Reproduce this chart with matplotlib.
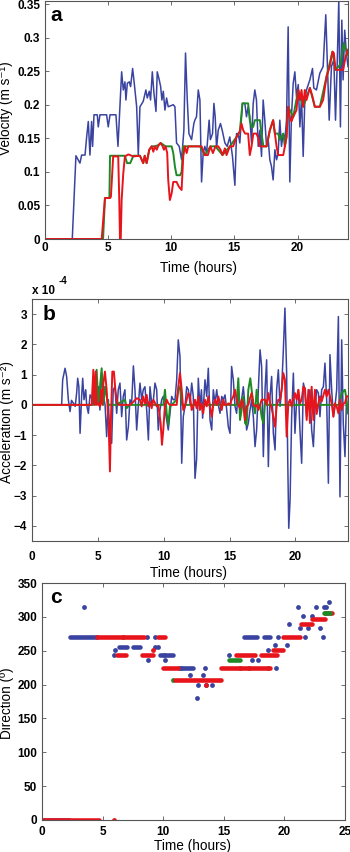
import matplotlib
matplotlib.use("Agg")
import matplotlib.pyplot as plt
from matplotlib.ticker import FormatStrFormatter

plt.rcParams['font.family'] = ['Liberation Sans', 'DejaVu Sans']
plt.rcParams['font.weight'] = 'bold'
plt.rcParams['font.size'] = 8.5

BLUE = '#3a44a0'
GREEN = '#1f8a25'
RED = '#e8141c'

# ---- panel a: velocity (m/s) ----
vel_blue_t = [0, 2.16, 2.45, 2.77, 2.90, 3.17, 3.30, 3.43, 3.56, 3.69, 3.77, 3.88, 4.14, 4.22, 4.35, 4.88,
              5.01, 5.15, 5.62, 5.78, 6.07, 6.20, 6.33, 6.41, 6.52, 6.68, 6.78, 6.94, 7.07, 7.26, 7.39,
              7.52, 7.78, 7.99, 8.10, 8.26, 8.36, 8.50, 8.63, 8.79, 8.89, 9.05, 9.16, 9.26, 9.37, 9.50,
              9.63, 9.76, 10.16, 10.29, 10.42, 10.63, 10.82, 11.0, 11.13, 11.27, 11.40, 11.61, 11.79,
              11.87, 12.0, 12.14, 12.27, 12.40, 12.53, 12.66, 12.80, 13.0, 13.1, 13.27, 13.38, 13.48,
              13.59, 13.72, 13.90, 14.06, 14.25, 14.43, 14.64, 14.85, 15.04, 15.17, 15.30, 15.43, 15.64,
              15.83, 15.96, 16.09, 16.22, 16.36, 16.49, 16.62, 16.75, 16.89, 17.02, 17.15, 17.28, 17.41,
              17.55, 17.68, 17.81, 17.94, 18.07, 18.21, 18.34, 18.47, 18.60, 18.73, 18.87, 19.00, 19.13,
              19.26, 19.39, 19.52, 19.66, 19.79, 19.92, 20.06, 20.19, 20.32, 20.45, 20.58, 20.71, 20.98,
              21.19, 21.29, 21.50, 21.77, 22.03, 22.24, 22.35, 22.51, 22.69, 22.88, 23.01, 23.14, 23.27,
              23.40, 23.51, 23.61, 23.74, 23.87, 24.0]
vel_blue_v = [0, 0, .124, .113, .125, .125, .152, .175, .125, .175, .138, .185, .185, .167, .185, .185,
              .167, .185, .185, .138, .249, .222, .234, .207, .232, .234, .227, .254, .232, .197, .125,
              .197, .205, .222, .210, .220, .207, .249, .217, .190, .249, .237, .227, .207, .220, .192,
              .210, .197, .200, .197, .143, .138, .118, .162, .277, .207, .157, .148, .172,
              .177, .182, .222, .207, .085, .128, .138, .128, .177, .148, .157, .202, .182,
              .135, .162, .172, .160, .143, .138, .152, .123, .080, .157, .157, .143, .202,
              .202, .182, .197, .182, .143, .202, .222, .207, .138, .162, .123, .207, .177,
              .138, .148, .118, .108, .088, .133, .118, .128, .177, .138, .157, .148, .177,
              .316, .085, .182, .232, .249, .212, .230, .167, .212, .123, .207, .222, .237,
              .254, .225, .222, .247, .257, .334, .272, .177, .257, .267, .177, .257, .356,
              .167, .326, .237, .311, .277, .257]

vel_red_t = [0, 4.49, 4.75, 5.15, 5.22, 5.40, 5.80, 5.88, 5.94, 6.00, 6.07, 6.20, 6.33, 6.6, 7.0, 7.52,
             7.78, 7.90, 8.05, 8.26, 8.45, 8.58, 8.70, 8.85, 9.0, 9.16, 9.32, 9.42, 9.55, 9.68, 9.76,
             9.89, 10.03, 10.16, 10.42, 10.60, 10.82, 10.95, 11.08, 11.22, 11.35, 12.27, 12.40, 12.66,
             12.90, 13.1, 13.30, 13.50, 13.72, 13.90, 14.06, 14.25, 14.38, 14.64, 14.90, 15.17, 15.43,
             15.56, 15.70, 15.85, 16.09, 16.22, 16.36, 16.50, 16.75, 16.90, 17.02, 17.55, 17.81, 18.07,
             18.21, 18.34, 18.47, 18.87, 19.0, 19.13, 19.26, 19.39, 19.52, 19.66, 19.92, 20.06, 20.19,
             20.32, 20.45, 20.58, 20.71, 20.98, 21.19, 21.37, 21.77, 22.03, 22.30, 22.56, 22.77, 22.88,
             23.01, 23.61, 23.82, 24.0]
vel_red_v = [0, 0, .061, .061, .063, .123, .123, .06, 0, 0, .058, .098, .123, .126, .123, .124,
             .113, .124, .113, .133, .138, .130, .138, .133, .140, .143, .138, .133, .138, .128, .088,
             .058, .068, .085, .085, .078, .073, .123, .138, .128, .138, .138, .138, .125,
             .125, .138, .128, .138, .138, .133, .125, .135, .125, .138, .138, .152, .160,
             .172, .162, .157, .157, .125, .138, .157, .157, .150, .138, .138, .162, .177,
             .157, .138, .125, .125, .138, .152, .197, .182, .175, .182, .192, .222, .207,
             .222, .197, .222, .207, .225, .212, .197, .197, .207, .242, .257, .279, .277,
             .252, .252, .272, .282]

vel_green_t = [0, 4.60, 4.75, 5.10, 5.15, 6.33, 6.5, 6.75, 7.0, 7.52, 7.78, 7.90, 8.05, 8.26, 8.45,
               8.70, 9.0, 9.16, 9.55, 9.76, 10.03, 10.16, 10.29, 10.42, 10.70, 10.82, 10.95, 11.08,
               11.35, 12.27, 12.66, 13.1, 13.50, 14.06, 14.64, 15.17, 15.43, 15.64, 16.09, 16.22,
               16.36, 16.49, 16.62, 17.02, 17.15, 17.30, 17.55, 17.81, 18.07, 18.21, 18.47, 18.6,
               18.87, 19.0, 19.13, 19.26, 19.66, 20.06, 20.45, 20.98, 21.37, 21.77, 22.30, 22.77,
               23.01, 23.40, 23.66, 23.82, 24.0]
vel_green_v = [0, 0, .061, .061, .124, .124, .113, .113, .124, .124, .113, .124, .113, .133, .138,
               .138, .140, .143, .138, .138, .138, .128, .108, .095, .095, .10, .138, .138,
               .138, .138, .125, .138, .138, .125, .138, .152, .160, .202, .202, .177,
               .167, .167, .177, .177, .157, .138, .138, .162, .177, .157, .157, .148,
               .157, .138, .152, .197, .182, .222, .197, .225, .197, .197, .242, .279,
               .252, .260, .292, .282, .274]

# ---- panel b: acceleration (x 1e-4 m/s^2) ----
acc_blue_t = [0, 2.25, 2.33, 2.51, 2.63, 2.76, 2.89, 3.0, 3.15, 3.28, 3.39, 3.47, 3.56, 3.65, 3.77, 3.85,
              3.95, 4.08, 4.15, 4.28, 4.41, 4.53, 4.66, 4.78, 4.91, 5.04, 5.16, 5.29, 5.42, 5.55, 5.67,
              5.80, 5.90, 6.05, 6.17, 6.30, 6.43, 6.55, 6.68, 6.81, 6.93, 7.06, 7.19, 7.32, 7.44, 7.57,
              7.70, 7.82, 7.95, 8.07, 8.20, 8.33, 8.45, 8.58, 8.71, 8.84, 8.96, 9.09, 9.22, 9.34, 9.47,
              9.59, 9.72, 9.85, 9.97, 10.10, 10.23, 10.35, 10.48, 10.61, 10.73, 10.86, 10.99, 11.11,
              11.24, 11.37, 11.49, 11.62, 11.75, 11.87, 12.0, 12.13, 12.25, 12.38, 12.50, 12.63, 12.75,
              12.87, 12.96, 13.14, 13.27, 13.39, 13.52, 13.65, 13.77, 13.90, 14.03, 14.15, 14.28, 14.41,
              14.53, 14.66, 14.79, 14.91, 15.04, 15.16, 15.29, 15.42, 15.54, 15.67, 15.80, 15.92, 16.05,
              16.18, 16.30, 16.43, 16.56, 16.68, 16.81, 16.94, 17.06, 17.19, 17.32, 17.44, 17.57, 17.70,
              17.82, 17.95, 18.08, 18.20, 18.33, 18.46, 18.58, 18.71, 18.84, 18.96, 19.09, 19.21, 19.34,
              19.42, 19.50, 19.60, 19.72, 19.85, 19.97, 20.10, 20.23, 20.35, 20.48, 20.61, 20.73, 20.86,
              20.99, 21.11, 21.24, 21.37, 21.49, 21.62, 21.75, 21.87, 22.00, 22.13, 22.25, 22.38, 22.51,
              22.63, 22.76, 22.89, 23.01, 23.14, 23.27, 23.39, 23.52, 23.64, 23.77, 23.89, 24.0]
acc_blue_v = [0, 0, .83, 1.21, .94, .17, -.22, .15, .05, -.05, .39, .88, .6, -.94, .28, .88,
              .17, .5, 0, -.28, .33, .22, 0, .5, .05, .6, -.17, 1.05, .3, 0, -1.05,
              .17, -1.0, -1.27, .5, .6, -.28, .5, .72, -.39, .28, .5, -1.16, -.72, .17, .05,
              1.29, .5, -.83, -.05, .72, .17, .5, .6, -.17, -1.16, .6, .05, .17, .72, .5,
              -.83, -.17, .17, .28, -.17, -.5, -.83, -.28, .28, .17, .17, .83, 2.15,
              1.6, -1.93, -.39, -.05, .6, .5, .05, .72, .28, -2.43, -1.8, .88, -.05,
              .5, -.44, .83, .28, 1.21, -.5, -.83, .5, .05, .5, 0, -.28, .28,
              .17, .33, -.17, -.72, -.94, 1.27, .83, -.05, -.28, .5, -.17, .17, .6,
              -.05, -.83, -.6, -.17, .17, -.39, -1.38, -.83, .5, 1.82, 1.27, -1.71, .5,
              1.49, -2.04, .28, .94, -.94, -1.49, .5, 1.16, -.05, .5, 1.82, 3.2, 1.05,
              -1.71, -4.08, -3.15, -.39, 1.05, -.94, .17, .5, -.83, -1.93, .72, .5, -.39,
              .17, .5, -.83, -1.38, -.17, .5, .39, -.39, .5, .6, 1.38, .17, -2.59,
              1.66, .5, -.39, -.05, .5, 2.92, -3.04, 2.15, -.6, -1.71, .28, .28]

acc_red_t = [0, 4.53, 4.66, 4.74, 4.84, 4.91, 5.04, 5.16, 5.24, 5.33, 5.42, 5.54, 5.67, 5.75, 5.82, 5.92,
             6.00, 6.10, 6.22, 6.33, 6.43, 6.55, 7.44, 7.70, 7.95, 8.20, 8.33, 8.45, 8.58, 8.71, 8.84,
             8.96, 9.09, 9.22, 9.47, 9.59, 9.77, 9.87, 9.97, 10.10, 10.23, 10.35, 10.48, 10.99, 11.11,
             11.24, 11.37, 11.49, 11.62, 11.75, 11.87, 12.0, 12.13, 12.25, 12.38, 12.50, 12.63, 12.75,
             12.87, 13.0, 13.14, 13.27, 13.39, 13.52, 13.65, 13.77, 13.90, 14.03, 14.15, 14.28, 14.41,
             14.53, 14.66, 14.79, 14.91, 15.04, 15.16, 15.29, 15.42, 15.54, 15.67, 15.80, 15.92, 16.05,
             16.18, 16.30, 16.43, 16.56, 16.68, 16.81, 16.94, 17.06, 17.19, 17.44, 17.70, 17.82, 17.95,
             18.08, 18.20, 18.33, 18.46, 18.58, 18.71, 18.84, 18.96, 19.09, 19.21, 19.34, 19.47, 19.60,
             19.72, 19.85, 19.97, 20.10, 20.23, 20.35, 20.48, 20.61, 20.73, 20.86, 20.99, 21.11, 21.24,
             21.37, 21.49, 21.62, 21.75, 21.87, 22.00, 22.25, 22.38, 22.51, 22.63, 22.76, 22.89, 23.01,
             23.14, 23.27, 23.39, 23.52, 23.64, 23.77, 23.89, 24.0]
acc_red_v = [0, 0, 1.16, 0, 1.1, 0, .05, -.05, .5, 0, .72, 1.1, .5, -.17, -.6, -2.2,
             -.39, 1.1, 1.1, .5, .17, 0, 0, .1, .22, .17, -.05, .28, .05, .33, -.05,
             .11, -.11, .17, -.05, 0, -.6, -1.32, -.83, 0, .17, .05, 0, 0, .6,
             1.05, .5, -.17, -.05, .17, .39, .28, -.17, -.05, .17, -.11, .28, -.17,
             .05, -.28, .17, -.05, .28, -.05, -.39, 0, .17, 0, .28, .05, -.17,
             .17, 0, 0, .05, 0, .17, .28, .5, .17, 0, -.11, .17, 0,
             -.5, -.05, 0, .22, .39, 0, -.05, 0, -.17, .17, .17, 0, .39,
             .05, -.11, -.39, -.72, -.05, .17, .17, .5, 1.05, .83, -1.05, .05, .17,
             -.05, .17, .39, .17, .5, .05, .17, .6, .55, -.5, .5, -.6, .6,
             -.5, .5, -.3, .05, .28, .11, .5, .28, .5, .28, .05, -.39, .05,
             -.05, -.28, .17, -.17, .05, .05, .28, .28]

acc_green_t = [0, 4.6, 4.7, 4.8, 4.91, 5.04, 5.29, 5.42, 5.54, 5.67, 5.80, 6.4, 7.06, 7.19, 7.4,
               9.97, 10.10, 10.23, 10.35, 10.48, 11.0, 11.11, 11.24, 11.4, 15.54, 15.67, 15.80,
               15.92, 16.05, 16.18, 16.30, 16.43, 16.58, 16.68, 16.81, 16.94, 17.06, 17.19, 17.32,
               17.44, 17.57, 17.70, 17.82, 23.3, 23.52, 23.77, 23.89, 24.0]
acc_green_v = [0, 0, .9, 0, 1.16, 0, 1.21, 0, .6, .28, 0, 0, .17, -.11, 0,
               0, .5, -.28, -.66, -.05, .17, .5, .6, 0, 0, .88, -.5,
               -.17, .28, -.6, -.66, .5, .88, .5, .05, -.28, .5, -.05, 0,
               -.39, -.6, .17, 0, 0, .39, .5, .17, -.28]

# ---- panel c: direction (deg); runs = (start, end, value), dots = (time, value) ----
dir_blue_runs = [(0, 2.2, 0), (2.3, 4.5, 270), (6.35, 7.03, 256), (7.53, 8.08, 256), (9.73, 10.82, 244),
                 (11.3, 12.47, 225), (16.7, 17.7, 270), (18.3, 18.8, 270)]
dir_blue_dots = [(3.43, 315), (6.0, 251), (5.93, 244), (8.65, 270), (9.3, 270), (9.31, 256), (9.59, 256),
                 (8.76, 237), (10.14, 237), (12.2, 214), (12.75, 180), (12.9, 199), (13.3, 214),
                 (13.45, 225), (13.5, 199), (14.0, 199), (19.3, 225), (17.3, 236), (17.8, 236),
                 (15.45, 244), (18.65, 251), (19.2, 258), (20.2, 258), (19.5, 270), (21.7, 270),
                 (23.2, 270), (20.4, 289), (21.1, 315), (21.3, 283), (21.5, 302), (21.95, 283),
                 (22.6, 315), (22.9, 283), (23.3, 315), (23.45, 315), (23.7, 322), (22.3, 302)]
dir_red_runs = [(0, 4.7, 0), (4.53, 8.38, 270), (9.6, 10.15, 270), (6.2, 6.9, 244), (8.21, 9.18, 244),
                (10.0, 11.24, 225), (11.0, 14.8, 207), (14.8, 18.8, 225), (16.04, 17.55, 244),
                (18.1, 19.4, 244), (19.07, 19.9, 251), (19.9, 21.3, 270), (21.4, 22.25, 289),
                (22.25, 23.35, 297), (23.35, 23.9, 306)]
dir_red_dots = [(5.9, 0), (9.18, 251), (13.5, 199)]
dir_green_runs = [(15.45, 16.3, 236), (23.3, 23.75, 306)]
dir_green_dots = [(6.65, 270), (10.05, 244), (11.5, 225), (10.8, 207), (16.3, 225), (17.1, 225),
                  (18.65, 225)]

W, H = 350, 852
LAB = dict(fontsize=9.8, fontweight='normal')


def box(left, top, right, bottom):
    return [left / W, (H - bottom) / H, (right - left) / W, (bottom - top) / H]


def style(ax, pad):
    for s in ax.spines.values():
        s.set_color('#555555')
        s.set_linewidth(0.8)
    ax.tick_params(direction='in', top=True, right=True, length=3, width=0.6,
                   color='#555555', labelsize=8.5)
    ax.tick_params(axis='x', pad=pad)
    ax.tick_params(axis='y', pad=3.5)


fig = plt.figure(figsize=(W / 100, H / 100), dpi=100)

# a
ax = fig.add_axes(box(45, 1, 348, 239))
ax.plot(vel_blue_t, vel_blue_v, color=BLUE, lw=1.1)
ax.plot(vel_green_t, vel_green_v, color=GREEN, lw=1.4)
ax.plot(vel_red_t, vel_red_v, color=RED, lw=1.4)
ax.set_xlim(0, 24)
ax.set_ylim(0, 0.3545)
ax.set_xticks([0, 5, 10, 15, 20])
ax.set_yticks([0, .05, .1, .15, .2, .25, .3, .35])
ax.yaxis.set_major_formatter(FormatStrFormatter('%g'))
style(ax, 2.5)
ax.text(0.017, 0.94, 'a', transform=ax.transAxes, fontsize=15, fontweight='bold', ha='left', va='center')
fig.text(198 / W, 1 - 268 / H, 'Time (hours)', ha='center', va='center', **LAB)
fig.text(6 / W, 1 - 108 / H, 'Velocity (m s⁻¹)', rotation=90, ha='center', va='center', **LAB)

# b
ax = fig.add_axes(box(32, 299, 348, 541))
ax.plot(acc_blue_t, acc_blue_v, color=BLUE, lw=1.1)
ax.plot(acc_green_t, acc_green_v, color=GREEN, lw=1.4)
ax.plot(acc_red_t, acc_red_v, color=RED, lw=1.4)
ax.set_xlim(0, 24)
ax.set_ylim(-4.5, 3.5)
ax.set_xticks([0, 5, 10, 15, 20])
ax.set_yticks([-4, -3, -2, -1, 0, 1, 2, 3])
style(ax, 7)
ax.text(0.035, 0.934, 'b', transform=ax.transAxes, fontsize=15, fontweight='bold', ha='left', va='center')
fig.text(32 / W, 1 - 291 / H, 'x 10', ha='left', va='center')
fig.text(59 / W, 1 - 281 / H, '-4', ha='left', va='center', fontsize=7)
fig.text(189 / W, 1 - 573 / H, 'Time (hours)', ha='center', va='center', **LAB)
fig.text(7 / W, 1 - 422 / H, 'Acceleration (m s⁻²)', rotation=90, ha='center', va='center', **LAB)

# c
ax = fig.add_axes(box(42, 583, 345, 820))
for t0, t1, d in dir_blue_runs:
    ax.plot([t0, t1], [d, d], color=BLUE, lw=3.3, solid_capstyle='round')
ax.scatter([p[0] for p in dir_blue_dots], [p[1] for p in dir_blue_dots], s=12, color=BLUE, lw=0)
for t0, t1, d in dir_red_runs:
    ax.plot([t0, t1], [d, d], color=RED, lw=3.3, solid_capstyle='round')
ax.scatter([p[0] for p in dir_red_dots], [p[1] for p in dir_red_dots], s=12, color=RED, lw=0)
for t0, t1, d in dir_green_runs:
    ax.plot([t0, t1], [d, d], color=GREEN, lw=3.3, solid_capstyle='round')
ax.scatter([p[0] for p in dir_green_dots], [p[1] for p in dir_green_dots], s=12, color=GREEN, lw=0)
ax.set_xlim(0, 25)
ax.set_ylim(0, 350)
ax.set_xticks([0, 5, 10, 15, 20, 25])
ax.set_yticks(range(0, 351, 50))
style(ax, 4.5)
ax.text(0.026, 0.937, 'c', transform=ax.transAxes, fontsize=15, fontweight='bold', ha='left', va='center')
fig.text(193 / W, 1 - 846 / H, 'Time (hours)', ha='center', va='center', **LAB)
fig.text(7 / W, 1 - 703 / H, 'Direction (º)', rotation=90, ha='center', va='center', **LAB)

fig.savefig('out.png', dpi=100)
